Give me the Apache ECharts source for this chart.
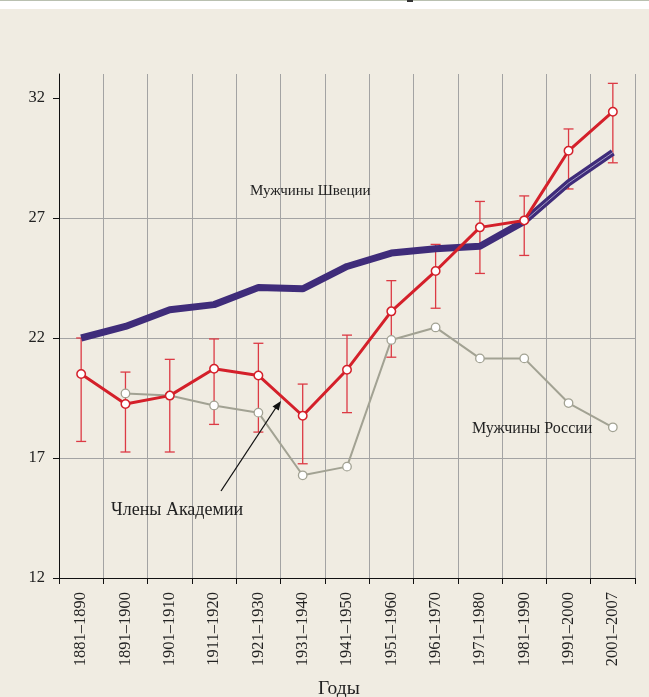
<!DOCTYPE html>
<html><head><meta charset="utf-8">
<script src="https://cdn.jsdelivr.net/npm/echarts@6/dist/echarts.min.js"></script>
<style>html,body{margin:0;padding:0;background:#f0ece2;}#c{width:649px;height:697px;}</style>
</head><body><div id="c"></div>
<script>
const categories = ['1881–1890','1891–1900','1901–1910','1911–1920','1921–1930','1931–1940','1941–1950','1951–1960','1961–1970','1971–1980','1981–1990','1991–2000','2001–2007'];
const sweden = [22.0, 22.48, 23.18, 23.39, 24.1, 24.05, 24.98, 25.54, 25.72, 25.82, 26.86, 28.46, 29.73];
const swedenInner = [null, null, null, null, null, null, null, null, null, null, 26.86, 28.46, 29.73];
const academy = [20.5, 19.25, 19.6, 20.72, 20.44, 18.76, 20.68, 23.11, 24.79, 26.61, 26.9, 29.8, 31.43];
const academyLow = [17.69, 17.25, 17.25, 18.4, 18.08, 16.76, 18.89, 21.2, 23.24, 24.69, 25.44, 28.21, 29.3];
const academyHigh = [22.0, 20.58, 21.11, 21.96, 21.78, 20.08, 22.12, 24.39, 25.9, 27.69, 27.92, 30.71, 32.61];
const russia = [null, 19.69, 19.6, 19.19, 18.89, 16.28, 16.64, 21.92, 22.44, 21.15, 21.15, 19.29, 18.28];
const yTicks = [12, 17, 22, 27, 32];

const FONT = '"Liberation Serif", "DejaVu Serif", serif';
const chart = echarts.init(document.getElementById('c'), null, {renderer: 'canvas'});
const errData = categories.map((c, i) => [i, academyLow[i], academyHigh[i]]);

chart.setOption({
  backgroundColor: '#f0ece2',
  animation: false,
  grid: {left: 59, right: 14, top: 74, bottom: 119, containLabel: false},
  xAxis: {
    type: 'category', data: categories, boundaryGap: true,
    axisLine: {lineStyle: {color: '#111', width: 1}},
    axisTick: {show: true, length: 6, interval: 0, lineStyle: {color: '#111'}},
    splitLine: {show: true, interval: 0, lineStyle: {color: '#a3a3a3', width: 1}},
    axisLabel: {interval: 0, rotate: 90, margin: 14, fontSize: 16.5, fontFamily: FONT, color: '#222'}
  },
  yAxis: {
    type: 'value', min: 12, max: 33, interval: 5,
    axisLine: {show: true, lineStyle: {color: '#111', width: 1}},
    axisTick: {show: true, length: 6, lineStyle: {color: '#111'}, customValues: yTicks},
    axisLabel: {margin: 14, fontSize: 16.5, fontFamily: FONT, color: '#222', customValues: yTicks},
    splitLine: {show: true, showMaxLine: false, lineStyle: {color: '#a3a3a3', width: 1}}
  },
  series: [
    {
      type: 'custom', name: 'err', data: errData, z: 1,
      renderItem: function (params, api) {
        const x = api.coord([api.value(0), api.value(1)])[0];
        const lo = api.coord([api.value(0), api.value(1)])[1];
        const hi = api.coord([api.value(0), api.value(2)])[1];
        const w = 5;
        const st = {stroke: '#dc3a44', lineWidth: 1.3};
        return {type: 'group', children: [
          {type: 'line', shape: {x1: x, y1: lo, x2: x, y2: hi}, style: st},
          {type: 'line', shape: {x1: x - w, y1: lo, x2: x + w, y2: lo}, style: st},
          {type: 'line', shape: {x1: x - w, y1: hi, x2: x + w, y2: hi}, style: st}
        ]};
      }
    },
    {
      type: 'line', name: 'Мужчины Швеции', data: sweden, z: 2,
      symbol: 'none', lineStyle: {color: '#3f2c7a', width: 7}, itemStyle: {color: '#3f2c7a'}
    },
    {
      type: 'line', name: 'inner', data: swedenInner, z: 3,
      symbol: 'none', lineStyle: {color: '#a59dc6', width: 1}
    },
    {
      type: 'line', name: 'Мужчины России', data: russia, z: 4,
      symbol: 'circle', symbolSize: 8.5, showAllSymbol: true,
      lineStyle: {color: '#a2a293', width: 2},
      itemStyle: {color: '#ffffff', borderColor: '#a2a293', borderWidth: 1.3}
    },
    {
      type: 'line', name: 'Члены Академии', data: academy, z: 5,
      symbol: 'circle', symbolSize: 8.5, showAllSymbol: true,
      lineStyle: {color: '#d4202a', width: 3},
      itemStyle: {color: '#ffffff', borderColor: '#d4202a', borderWidth: 1.5}
    }
  ],
  graphic: [
    {type: 'rect', left: 0, top: 0, shape: {width: 649, height: 9}, style: {fill: '#ffffff'}, z: 10},
    {type: 'rect', left: 0, top: 0, shape: {width: 649, height: 1}, style: {fill: '#b9c0b0'}, z: 11},
    {type: 'rect', left: 407, top: 0, shape: {width: 6, height: 2}, style: {fill: '#333'}, z: 12},
    {type: 'text', left: 250, top: 184, style: {text: 'Мужчины Швеции', font: '15px ' + FONT, fill: '#222'}, z: 20},
    {type: 'text', left: 472, top: 421, style: {text: 'Мужчины России', font: '16px ' + FONT, fill: '#222'}, z: 20},
    {type: 'text', left: 111, top: 501, style: {text: 'Члены Академии', font: '18px ' + FONT, fill: '#222'}, z: 20},
    {type: 'text', left: 318, top: 679, style: {text: 'Годы', font: '19.5px ' + FONT, fill: '#222'}, z: 20},
    {type: 'line', shape: {x1: 221, y1: 491, x2: 278, y2: 404.5}, style: {stroke: '#111', lineWidth: 1.3}, z: 20},
    {type: 'polygon', shape: {points: [[281, 401], [272.5, 406.5], [278.8, 410.6]]}, style: {fill: '#111'}, z: 20}
  ]
});
</script></body></html>
